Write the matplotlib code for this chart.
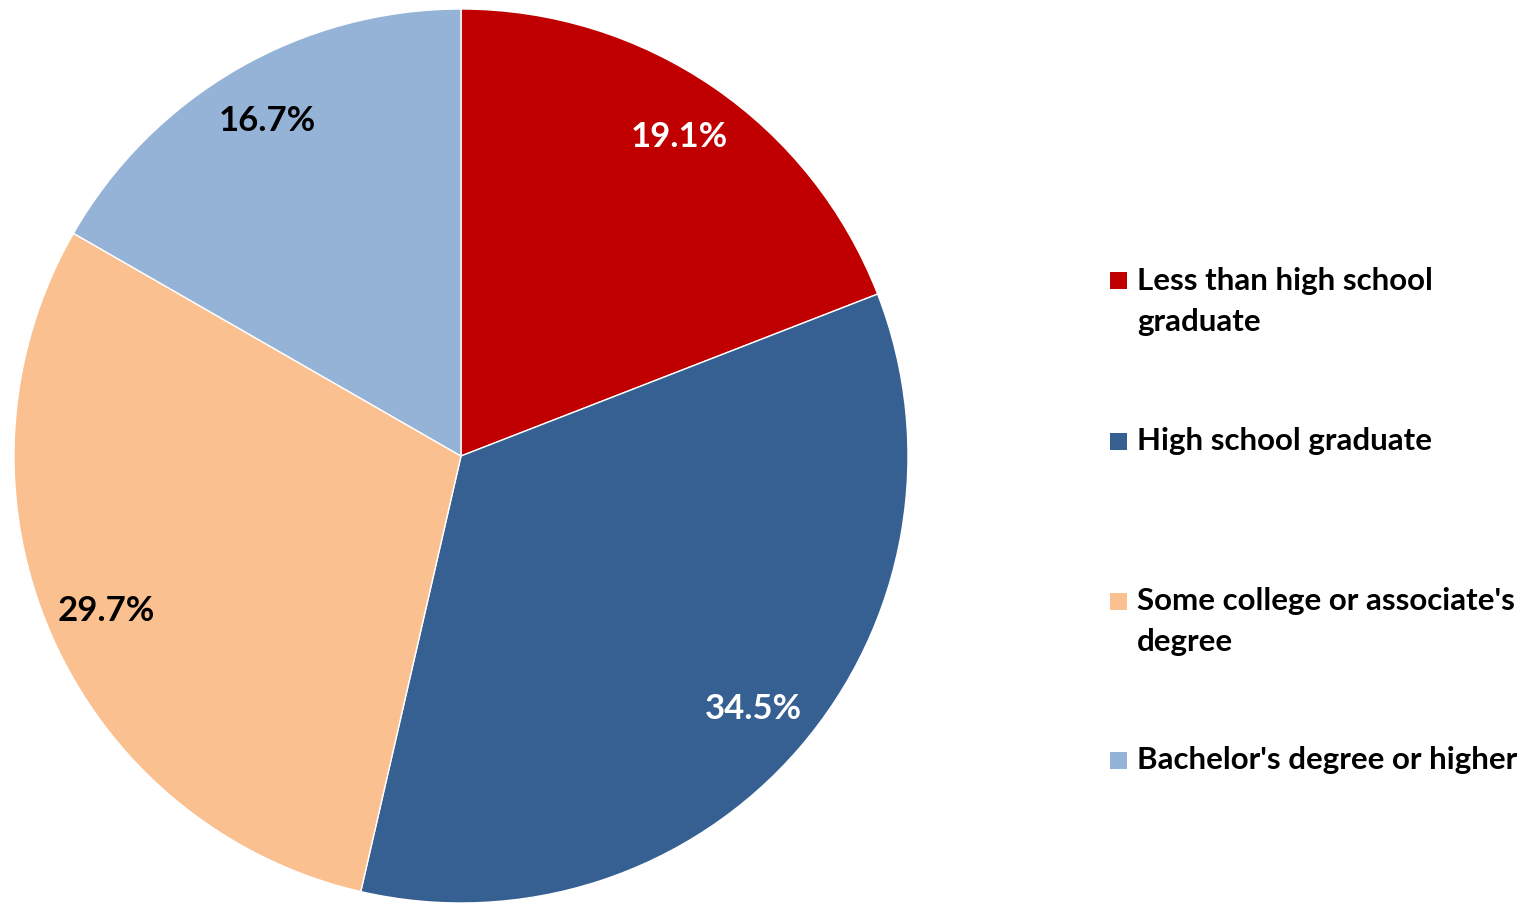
import matplotlib.pyplot as plt
from matplotlib.patches import Rectangle

# Educational attainment shares
categories = [["Less than high school", "graduate"], ["High school graduate"],
              ["Some college or associate's", "degree"], ["Bachelor's degree or higher"]]
shares = [19.1, 34.5, 29.7, 16.7]
colors = ["#C00000", "#376092", "#FAC090", "#95B3D7"]
label_colors = ["white", "white", "black", "black"]

plt.rcParams['font.family'] = ['Lato', 'DejaVu Sans']

W, H = 1534, 905
fig = plt.figure(figsize=(W / 100, H / 100), dpi=100)

# pie centred at (461, 456) px with radius 447 px
cx, cy, r = 461, 456, 447
ax = fig.add_axes([(cx - r) / W, (H - cy - r) / H, 2 * r / W, 2 * r / H])
wedges, texts, autotexts = ax.pie(
    shares, colors=colors, startangle=90, counterclock=False,
    autopct='%.1f%%', pctdistance=0.865, radius=1,
    wedgeprops=dict(edgecolor='white', linewidth=1),
    textprops=dict(fontsize=25, fontweight='bold'))
for t, c in zip(autotexts, label_colors):
    t.set_color(c)
ax.set_xlim(-1, 1)
ax.set_ylim(-1, 1)
ax.set_aspect('equal')

# legend drawn by hand so each entry's first line lines up
first_line_y = [281, 441, 601, 760]
line_gap = 41
for lines, col, y in zip(categories, colors, first_line_y):
    fig.patches.append(Rectangle((1110 / W, (H - y - 8.5) / H), 17 / W, 17 / H,
                                 transform=fig.transFigure, facecolor=col,
                                 edgecolor='none'))
    for i, line in enumerate(lines):
        fig.text(1137 / W, (H - y - i * line_gap) / H, line, fontsize=22.5,
                 fontweight='bold', va='center', ha='left')

fig.savefig('out.png', dpi=100)
